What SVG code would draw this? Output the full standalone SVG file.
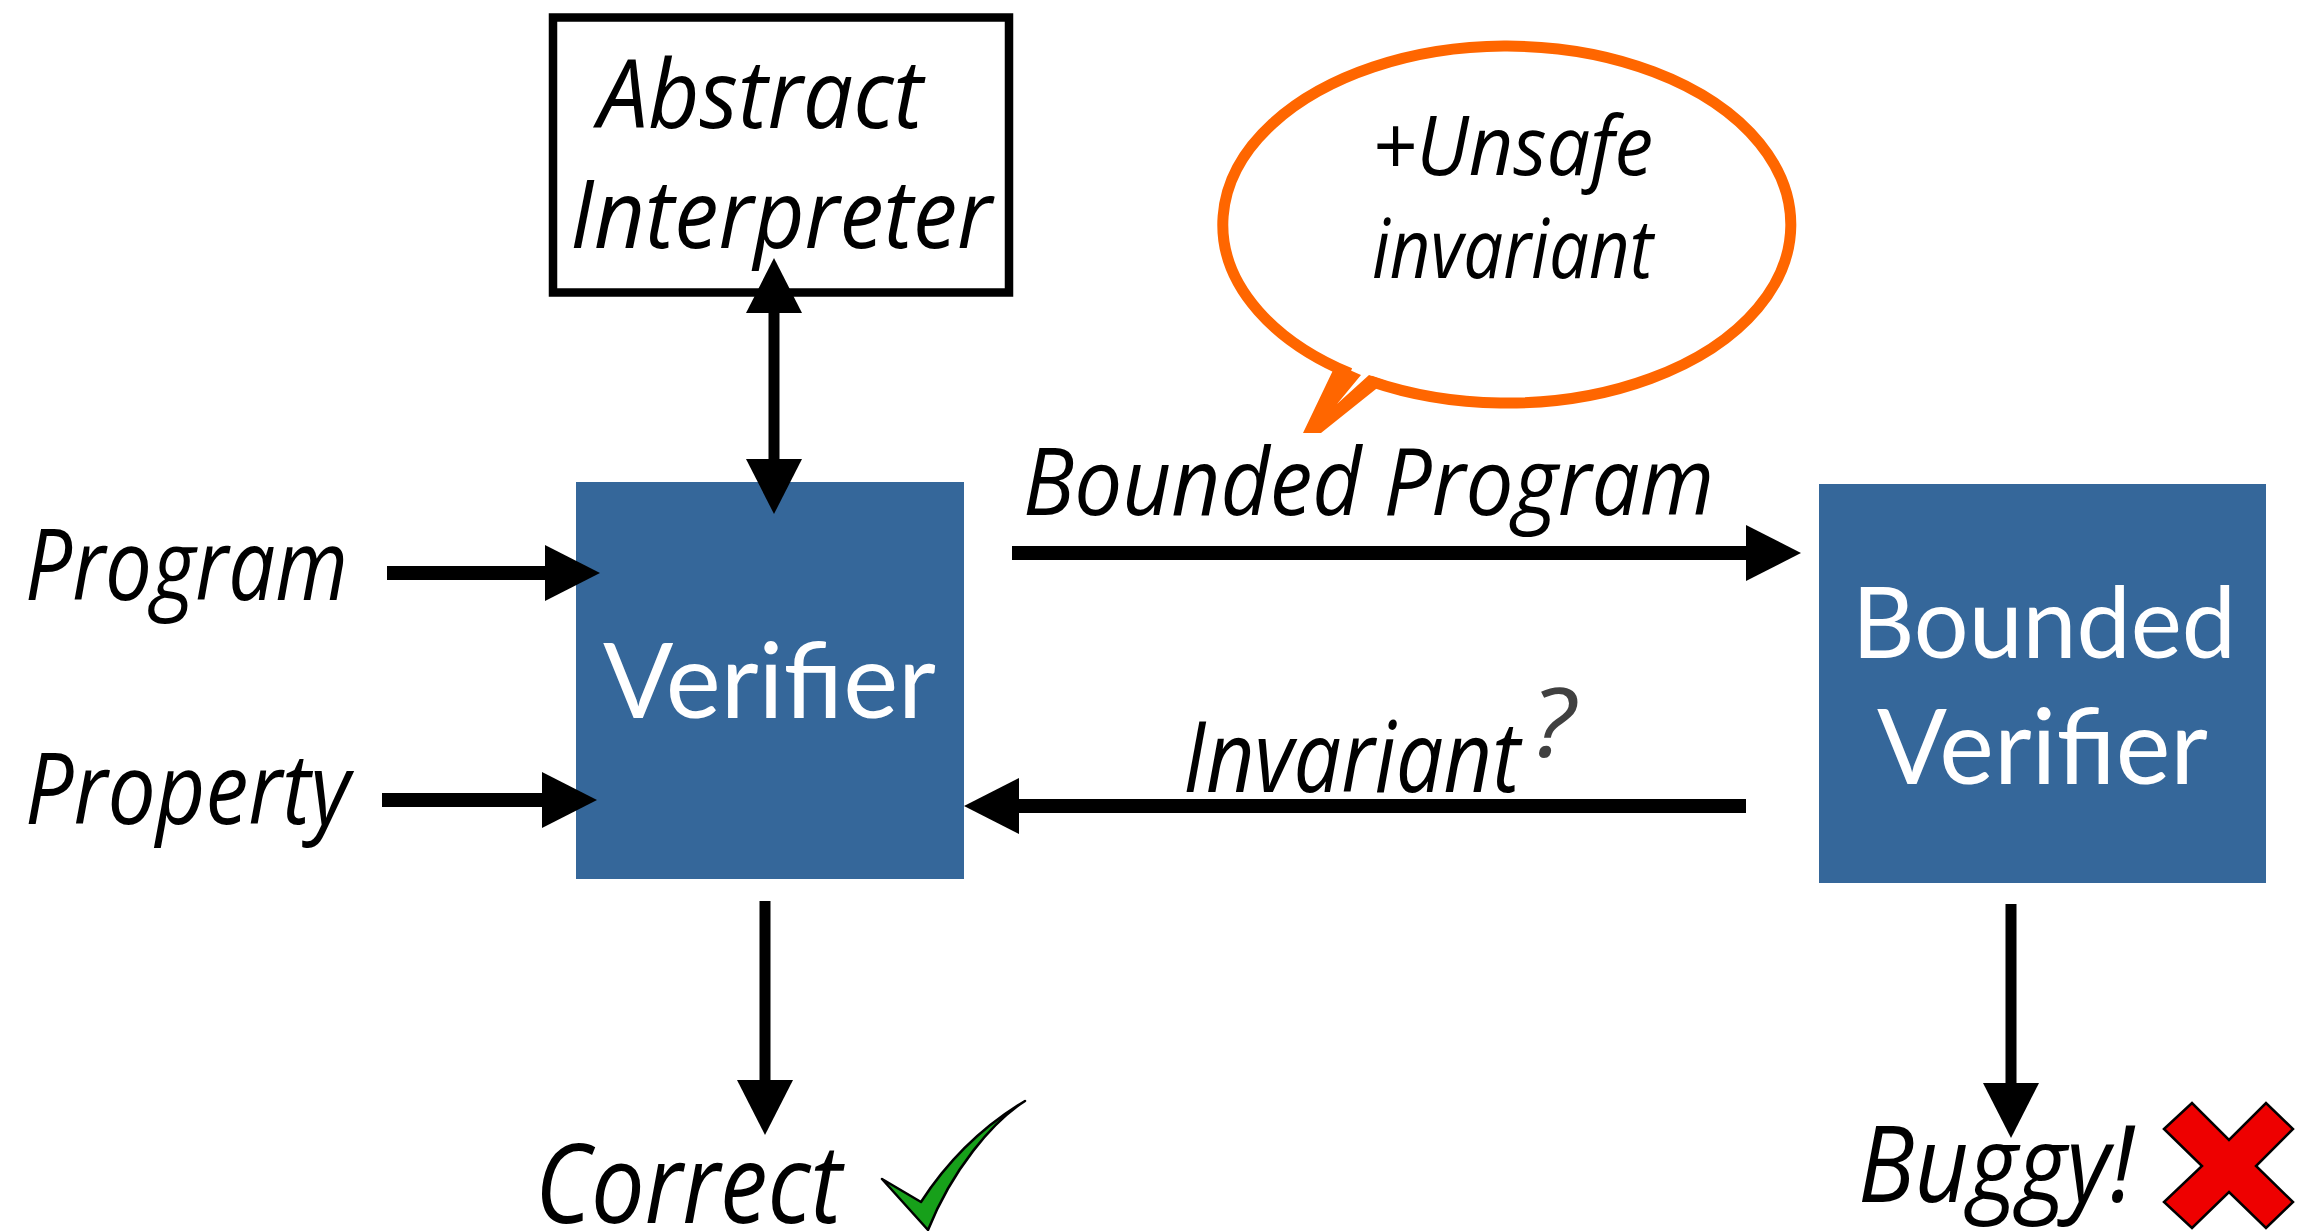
<svg xmlns="http://www.w3.org/2000/svg" width="2304" height="1231" viewBox="0 0 2304 1231">
  <style>
    .lbl { font-family: "Open Sans", "Liberation Sans", sans-serif; font-style: italic; fill: #000; }
    .box { fill: #35679a; }
    .boxtxt { font-family: Lato, "Liberation Sans", sans-serif; fill: #fff; }
    .wire { stroke: #000; fill: none; }
    .h { stroke-width: 14; }
    .v { stroke-width: 11; }
    .orange { fill: #ff6600; }
  </style>
  <defs>
    <marker id="head" viewBox="0 0 55 56" refX="0" refY="28" markerWidth="55" markerHeight="56" markerUnits="userSpaceOnUse" orient="auto-start-reverse">
      <path d="M0,0 L55,28 L0,56 Z" fill="#000"/>
    </marker>
  </defs>
  <rect width="2304" height="1231" fill="#fff"/>

  <!-- Abstract interpreter box -->
  <g id="abstract-interpreter">
    <rect x="553" y="17.5" width="456" height="275" fill="#fff" stroke="#000" stroke-width="8.5"/>
    <text class="lbl" x="598" y="128" font-size="96" textLength="325" lengthAdjust="spacingAndGlyphs">Abstract</text>
    <text class="lbl" x="570" y="248" font-size="96" textLength="422" lengthAdjust="spacingAndGlyphs">Interpreter</text>
  </g>

  <!-- Speech bubble: open ellipse outline plus a V-shaped tail -->
  <g id="unsafe-bubble">
    <path d="M1370,381 A284 178.5 0 1 0 1350,373.4" fill="#fff" stroke="#ff6600" stroke-width="11"/>
    <path class="orange" d="M1336,364 L1361,375 L1337,404 L1369,375 L1386,381 L1321,433 L1303,433 Z"/>
    <text class="lbl" x="1372" y="175" font-size="82" textLength="281" lengthAdjust="spacingAndGlyphs">+Unsafe</text>
    <text class="lbl" x="1372" y="278" font-size="82" textLength="281" lengthAdjust="spacingAndGlyphs">invariant</text>
  </g>

  <!-- Verifier -->
  <g id="verifier">
    <rect class="box" x="576" y="482" width="388" height="397"/>
    <text class="boxtxt" x="603" y="718" font-size="105" textLength="333" lengthAdjust="spacingAndGlyphs">Verifier</text>
  </g>

  <!-- Bounded verifier -->
  <g id="bounded-verifier">
    <rect class="box" x="1819" y="484" width="447" height="399"/>
    <text class="boxtxt" x="1852" y="658" font-size="98" textLength="384" lengthAdjust="spacingAndGlyphs">Bounded</text>
    <text class="boxtxt" x="1877" y="784" font-size="105" textLength="331" lengthAdjust="spacingAndGlyphs">Verifier</text>
  </g>

  <!-- Inputs -->
  <g id="program">
    <text class="lbl" x="25" y="600" font-size="98" textLength="323" lengthAdjust="spacingAndGlyphs">Program</text>
  </g>
  <g id="property">
    <text class="lbl" x="25" y="824" font-size="98" textLength="325" lengthAdjust="spacingAndGlyphs">Property</text>
  </g>

  <!-- Outcomes -->
  <g id="correct">
    <text class="lbl" x="535" y="1223" font-size="110" textLength="307" lengthAdjust="spacingAndGlyphs">Correct</text>
    <path d="M882,1179 L921,1202 C945,1165 980,1128 1025,1101 C992,1122 952,1170 928,1230 Z" fill="#17a01a" stroke="#000" stroke-width="2.5" stroke-linejoin="round"/>
  </g>
  <g id="buggy">
    <text class="lbl" x="1858" y="1202" font-size="106" textLength="276" lengthAdjust="spacingAndGlyphs">Buggy!</text>
    <path d="M2164,1129 L2192,1103 L2229,1140 L2266,1103 L2293,1129 L2256,1166 L2293,1202 L2266,1228 L2229,1192 L2192,1228 L2164,1202 L2202,1166 Z" fill="#ee0000" stroke="#000" stroke-width="2.5" stroke-linejoin="miter"/>
  </g>

  <!-- Connectors -->
  <g id="connectors">
    <line class="wire h" x1="387" y1="573" x2="545" y2="573" marker-end="url(#head)"/>
    <line class="wire h" x1="382" y1="800" x2="542" y2="800" marker-end="url(#head)"/>
    <line class="wire v" x1="774" y1="313" x2="774" y2="459" marker-start="url(#head)" marker-end="url(#head)"/>
    <line class="wire h" x1="1012" y1="553" x2="1746" y2="553" marker-end="url(#head)"/>
    <line class="wire h" x1="1746" y1="806" x2="1019" y2="806" marker-end="url(#head)"/>
    <line class="wire v" x1="765" y1="901" x2="765" y2="1080" marker-end="url(#head)"/>
    <line class="wire v" x1="2011" y1="904" x2="2011" y2="1083" marker-end="url(#head)"/>
    <text class="lbl" x="1023" y="515" font-size="94" textLength="691" lengthAdjust="spacingAndGlyphs">Bounded Program</text>
    <text class="lbl" x="1183" y="792" font-size="98" textLength="337" lengthAdjust="spacingAndGlyphs">Invariant</text>
    <text class="lbl" x="1531" y="757" font-size="96" textLength="44" lengthAdjust="spacingAndGlyphs" style="fill:#404040">?</text>
  </g>
</svg>
